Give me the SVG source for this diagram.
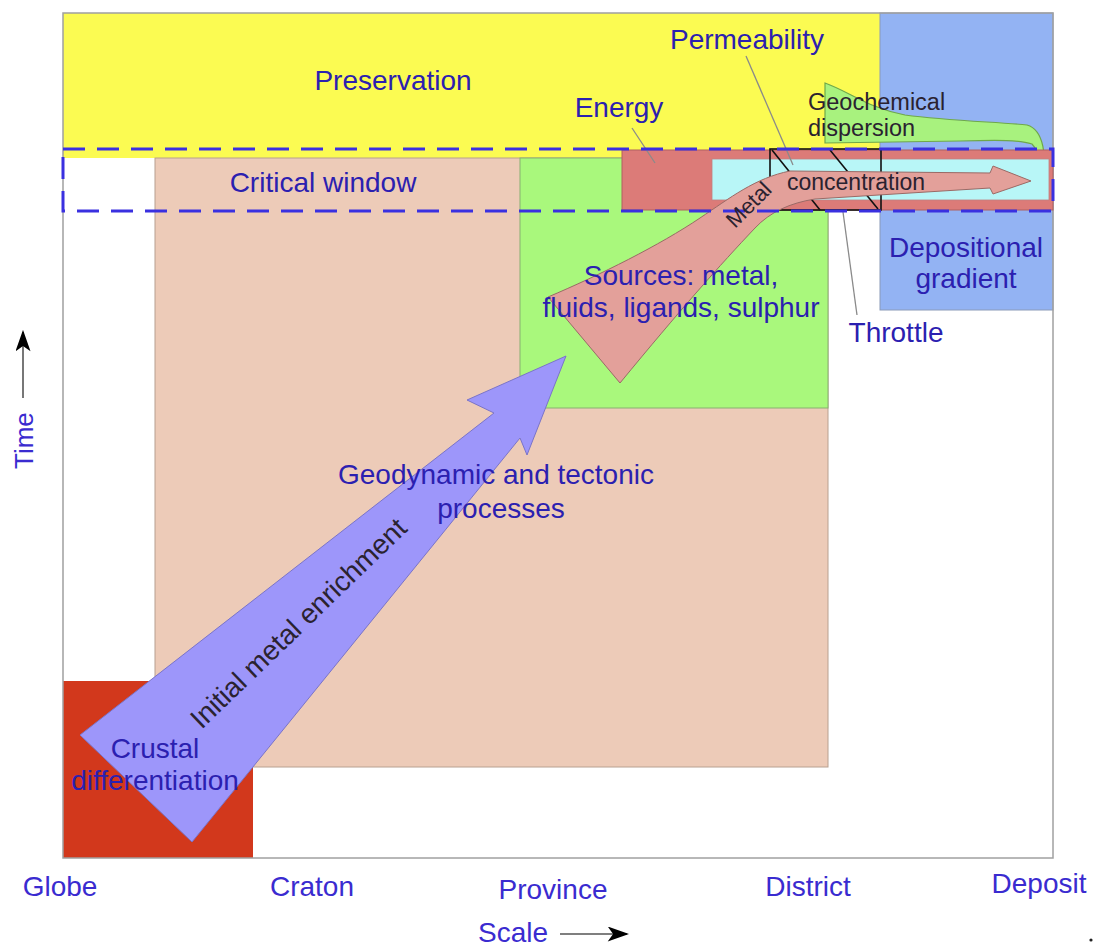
<svg xmlns="http://www.w3.org/2000/svg" width="1102" height="948" viewBox="0 0 1102 948">
<style>
text{font-family:"Liberation Sans",Arial,sans-serif;font-size:28px}
.ax{fill:#3a2bd0}
.lb{fill:#2b20b0}
.dk{fill:#2a2230}
.lead{stroke:#8a8a8a;stroke-width:1.3;fill:none}
</style>
<defs>
<marker id="ah" viewBox="0 0 20 14" refX="18" refY="7" markerWidth="22" markerHeight="15" markerUnits="userSpaceOnUse" orient="auto">
<path d="M0,0 L20,7 L0,14 L5,7 Z" fill="#000"/>
</marker>
</defs>
<rect width="1102" height="948" fill="#fff"/>
<g id="regions">
<rect id="preservation" x="63" y="13" width="817" height="145" fill="#fbfb52"/>
<rect id="depositional" x="880" y="13" width="173" height="297" fill="#93b3f3" stroke="#8a9ab8" stroke-width="1"/>
<rect id="geodynamic" x="155" y="158" width="673" height="609" fill="#edcbb8" stroke="#b8a090" stroke-width="1"/>
<rect id="sources" x="520" y="158" width="308" height="250" fill="#a9f87c" stroke="#88b070" stroke-width="1"/>
<rect id="crustal" x="63" y="681" width="190" height="177" fill="#d2381c"/>
<rect id="frame" x="63" y="13" width="990" height="845" fill="none" stroke="#a0a0a0" stroke-width="1.5"/>
</g>
<g id="green-dispersion">
<path d="M825,83 C850,92 868,108 905,115 C950,121 1000,122 1027,125 C1045,130 1046,160 1043,176 L1028,181 C1040,172 1040,152 1032,144 C1020,140 1000,140 960,141 L825,143 Z" fill="#a8f27e" stroke="#6fa84a" stroke-width="1.2"/>
</g>
<g id="energy-pipe">
<rect x="622" y="150" width="431" height="60" fill="#dc7b78" stroke="#b06060" stroke-width="1"/>
<rect x="712" y="159" width="337" height="41" fill="#b8f6f7" stroke="#c08080" stroke-width="0.8"/>
</g>
<g id="throttle-box" stroke="#111" stroke-width="1.6" fill="none">
<rect x="770" y="149" width="111" height="61"/>
<line x1="772" y1="150" x2="820" y2="210"/>
<line x1="830" y1="150" x2="878" y2="209"/>
</g>
<g id="connectors">
<path id="metal-arrow" d="M548,297 C600,275 660,245 700,218 C730,198 755,178 790,171 L990,173 L993,166 L1031,181 L993,194 L990,188 L815,199 C790,203 770,212 755,228 C720,265 680,310 620,383 Z" fill="#e3a09a" stroke="#9a6a66" stroke-width="1"/>
<path id="enrichment-arrow" d="M80,735 L494,413 L467,400 L566,356 L527,455 L520,438 L192,842 Z" fill="#9d96fa" stroke="#7a74c8" stroke-width="1"/>
<line class="lead" x1="632" y1="128" x2="655" y2="163"/>
<line class="lead" x1="746" y1="56" x2="793" y2="165"/>
<line class="lead" x1="843" y1="212" x2="857" y2="315"/>
<line x1="23" y1="398" x2="23" y2="332" stroke="#555" stroke-width="1.6" marker-end="url(#ah)"/>
<line x1="560" y1="934" x2="627" y2="934" stroke="#555" stroke-width="1.6" marker-end="url(#ah)"/>
</g>
<g id="critical-window">
<rect x="63" y="149" width="990" height="62" fill="none" stroke="#3a30e0" stroke-width="3" stroke-dasharray="22 12"/>
</g>
<g id="labels">
<text class="lb" x="393" y="90" text-anchor="middle">Preservation</text>
<text class="lb" x="747" y="49" text-anchor="middle">Permeability</text>
<text class="lb" x="619" y="117" text-anchor="middle">Energy</text>
<text class="dk" x="808" y="110" style="font-size:23.5px">Geochemical</text>
<text class="dk" x="808" y="136" style="font-size:23.5px">dispersion</text>
<text class="lb" x="323" y="192" text-anchor="middle">Critical window</text>
<text class="dk" x="787" y="190" style="font-size:23px">concentration</text>
<text class="dk" transform="translate(754,210) rotate(-45)" text-anchor="middle" style="font-size:22px">Metal</text>
<text class="lb" x="681" y="285" text-anchor="middle">Sources: metal,</text>
<text class="lb" x="681" y="317" text-anchor="middle">fluids, ligands, sulphur</text>
<text class="lb" x="966" y="257" text-anchor="middle">Depositional</text>
<text class="lb" x="966" y="288" text-anchor="middle">gradient</text>
<text class="lb" x="896" y="342" text-anchor="middle">Throttle</text>
<text class="lb" x="496" y="484" text-anchor="middle">Geodynamic and tectonic</text>
<text class="lb" x="501" y="518" text-anchor="middle">processes</text>
<text class="dk" transform="translate(305,630) rotate(-44)" text-anchor="middle">Initial metal enrichment</text>
<text class="lb" x="155" y="758" text-anchor="middle">Crustal</text>
<text class="lb" x="155" y="790" text-anchor="middle">differentiation</text>
<text class="ax" transform="translate(33,469) rotate(-90)" style="font-size:26px">Time</text>
<text class="ax" x="60" y="896" text-anchor="middle">Globe</text>
<text class="ax" x="312" y="896" text-anchor="middle">Craton</text>
<text class="ax" x="553" y="899" text-anchor="middle">Province</text>
<text class="ax" x="808" y="896" text-anchor="middle">District</text>
<text class="ax" x="1039" y="893" text-anchor="middle">Deposit</text>
<text class="ax" x="478" y="942">Scale</text>
<circle cx="1091" cy="940" r="1.6" fill="#222"/>
</g>
</svg>
